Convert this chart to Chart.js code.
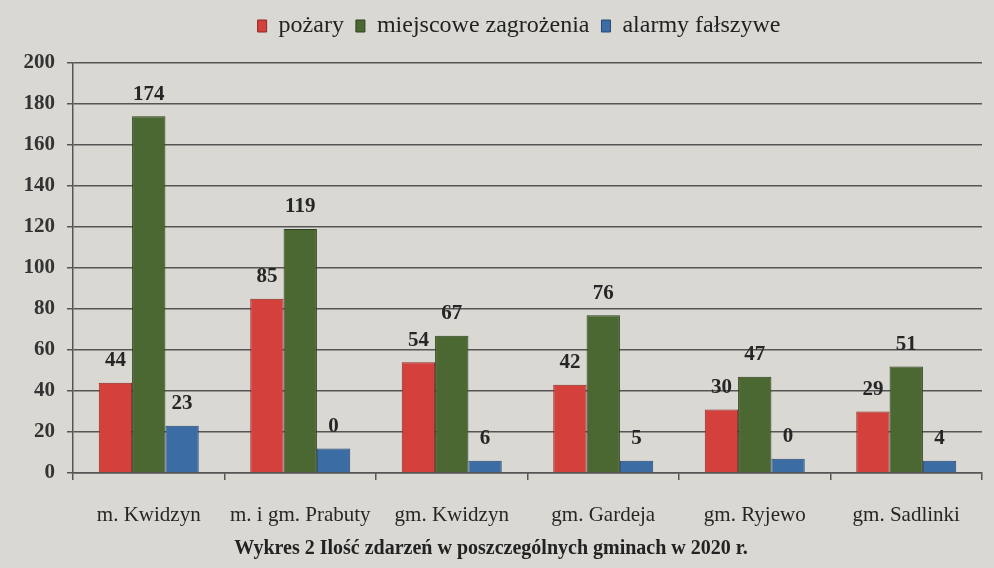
<!DOCTYPE html>
<html lang="pl">
<head>
    <meta charset="UTF-8">
    <title>Wykres 2</title>
    <script src="https://cdn.jsdelivr.net/npm/chart.js"></script>
    <style>
        html, body {
            margin: 0;
            padding: 0;
            background-color: #dad8d2;
        }
        canvas {
            display: block;
        }
    </style>
</head>
<body>
    <canvas id="chart" width="994" height="568"></canvas>

    <script>
        // categories (gminy)
        const categories = ["m. Kwidzyn", "m. i gm. Prabuty", "gm. Kwidzyn", "gm. Gardeja", "gm. Ryjewo", "gm. Sadlinki"];
        const seriesNames = ["pożary", "miejscowe zagrożenia", "alarmy fałszywe"];

        // bar heights as drawn in the picture
        const pozary = [44, 85, 54, 43, 31, 30];
        const miejscowe = [174, 119, 67, 77, 47, 52];
        const alarmy = [23, 12, 6, 6, 7, 6];

        // numbers printed above the bars
        const pozaryLabels = ["44", "85", "54", "42", "30", "29"];
        const miejscoweLabels = ["174", "119", "67", "76", "47", "51"];
        const alarmyLabels = ["23", "0", "6", "5", "0", "4"];

        const yTicks = [0, 20, 40, 60, 80, 100, 120, 140, 160, 180, 200];
        const chartTitle = "Wykres 2 Ilość zdarzeń w poszczególnych gminach w 2020 r.";

        const SERIF = "'Liberation Serif', 'DejaVu Serif', serif";

        // draws the printed numbers above each bar
        const barLabels = {
            id: 'barLabels',
            afterDatasetsDraw(chart) {
                const ctx = chart.ctx;
                ctx.save();
                ctx.font = "bold 21px " + SERIF;
                ctx.fillStyle = "#262626";
                ctx.textAlign = "center";
                ctx.textBaseline = "middle";
                chart.data.datasets.forEach((ds, di) => {
                    const meta = chart.getDatasetMeta(di);
                    meta.data.forEach((bar, i) => {
                        ctx.fillText(ds.printed[i], bar.x, bar.y - 22);
                    });
                });
                ctx.restore();
            }
        };

        // fixed room for the legend, centred over the plot area
        const legendSpace = {
            id: 'legendSpace',
            beforeInit(chart) {
                const fit = chart.legend.fit;
                chart.legend.fit = function () {
                    fit.call(this);
                    this.height = 61;
                };
            },
            afterLayout(chart) {
                chart.legend.left += 28;
                chart.legend.right += 28;
            }
        };

        new Chart(document.getElementById('chart').getContext('2d'), {
            type: 'bar',
            data: {
                labels: categories,
                datasets: [
                    {
                        label: seriesNames[0],
                        data: pozary,
                        printed: pozaryLabels,
                        backgroundColor: '#d4413c',
                        borderColor: '#8a2a26',
                        borderWidth: 1
                    },
                    {
                        label: seriesNames[1],
                        data: miejscowe,
                        printed: miejscoweLabels,
                        backgroundColor: '#4c6832',
                        borderColor: '#2e4020',
                        borderWidth: 1
                    },
                    {
                        label: seriesNames[2],
                        data: alarmy,
                        printed: alarmyLabels,
                        backgroundColor: '#3b6ca4',
                        borderColor: '#244a75',
                        borderWidth: 1
                    }
                ]
            },
            options: {
                responsive: false,
                animation: false,
                devicePixelRatio: 1,
                layout: {
                    padding: { left: 0, right: 12, top: 2, bottom: 5 }
                },
                datasets: {
                    bar: {
                        barPercentage: 1.0,
                        categoryPercentage: 0.66
                    }
                },
                plugins: {
                    legend: {
                        display: true,
                        position: 'top',
                        labels: {
                            boxWidth: 9,
                            boxHeight: 12,
                            padding: 12,
                            color: '#222',
                            font: { family: SERIF, size: 24 }
                        }
                    },
                    title: {
                        display: true,
                        position: 'bottom',
                        text: chartTitle,
                        color: '#222',
                        font: { family: SERIF, size: 20, weight: 'bold' },
                        padding: { top: 4, bottom: 2 }
                    },
                    tooltip: { enabled: false }
                },
                scales: {
                    x: {
                        afterFit: (scale) => {
                            scale.height = 60;
                        },
                        grid: {
                            drawOnChartArea: false,
                            drawTicks: true,
                            tickLength: 7,
                            color: '#555',
                            lineWidth: 1.5
                        },
                        border: { color: '#555', width: 1.5 },
                        ticks: {
                            color: '#262626',
                            padding: 23,
                            font: { family: SERIF, size: 21 }
                        }
                    },
                    y: {
                        min: 0,
                        max: 200,
                        afterBuildTicks: (scale) => {
                            scale.ticks = yTicks.map(v => ({ value: v }));
                        },
                        afterFit: (scale) => {
                            scale.width = 73;
                        },
                        grid: {
                            color: '#555',
                            lineWidth: 1.5,
                            tickLength: 6
                        },
                        border: { color: '#555', width: 1.5 },
                        ticks: {
                            color: '#333',
                            padding: 12,
                            font: { family: SERIF, size: 21, weight: 'bold' }
                        }
                    }
                }
            },
            plugins: [barLabels, legendSpace]
        });
    </script>
</body>
</html>
